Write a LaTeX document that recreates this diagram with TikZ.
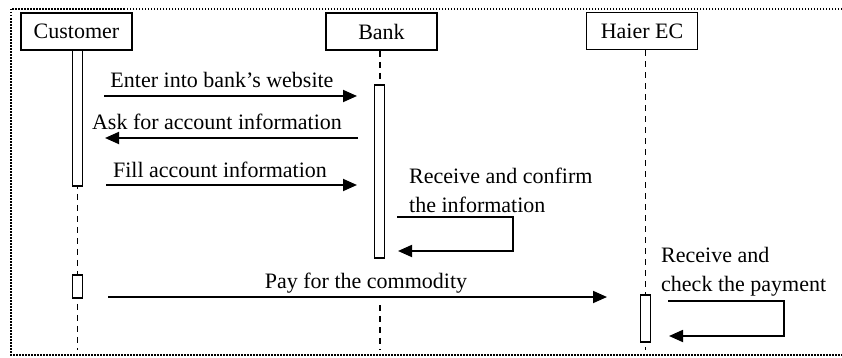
\documentclass[tikz,border=0pt]{standalone}
\usepackage{fontspec}
\setmainfont{Liberation Serif}
\usetikzlibrary{arrows.meta}

\begin{document}
\begin{tikzpicture}[x=1pt,y=-1pt,
  actor/.style={draw, line width=1.6pt, minimum width=111pt, minimum height=37pt, inner sep=0pt, font=\fontsize{22}{24}\selectfont},
  msg/.style={font=\fontsize{22}{29}\selectfont, inner sep=0pt},
  life/.style={line width=1.6pt, dash pattern=on 6pt off 5pt},
  actbar/.style={draw, fill=white, line width=1.5pt, minimum width=10pt, inner sep=0pt},
  call/.style={line width=1.8pt, -{Triangle[length=14pt,width=12pt]}}]
\useasboundingbox (0,0) rectangle (842,358);

\coordinate (cust-end) at (77.5,350);
\coordinate (bank-end) at (380,350);
\coordinate (bank-gap) at (380,305);
\coordinate (haier-end) at (645.5,350);
% message ends
\coordinate (M1a) at (104,96);
\coordinate (M1b) at (357,96);
\coordinate (M2a) at (358,138);
\coordinate (M2b) at (105,138);
\coordinate (M3a) at (106,185);
\coordinate (M3b) at (357,185);
\coordinate (M4a) at (108,297);
\coordinate (M4b) at (607,297);
\coordinate (L1a) at (397,217);
\coordinate (L1b) at (398,251);
\coordinate (L2a) at (668,301);
\coordinate (L2b) at (669,336);

 \draw[line width=1.5pt, dash pattern=on 1.5pt off 1.5pt] (845,9) -- (11,9) -- (11,355) -- (845,355);

 \node[actor] (cust) at (76.5,31.5) {Customer};
 \node[actor] (bank) at (381.5,31.5) {Bank};
 \node[actor] (haier) at (642,31) {Haier EC};

 \draw[life] (cust.south -| cust-end) -- (cust-end);
 \draw[life] (haier.south -| haier-end) -- (haier-end);
 \draw[life] (bank-gap) -- (bank-end);

 \node[actbar, minimum height=136pt] (custbar) at (77.5,118) {};
 \node[actbar, minimum height=23pt] (custpay) at (77.5,286.5) {};
 \node[actbar, minimum height=173pt] (bankbar) at (379.5,171.5) {};
 \node[actbar, minimum height=47pt] (haierbar) at (645.5,318.5) {};
 \draw[life] (bank.south -| bank-end) -- (bankbar.north -| bank-end);

 \draw[call] (M1a) -- (M1b);
 \draw[call] (M2a) -- (M2b);
 \draw[call] (M3a) -- (M3b);
 \draw[call] (M4a) -- (M4b);
 \draw[call] (L1a) -- ++(116,0) |- (L1b);
 \draw[call] (L2a) -- ++(116,0) |- (L2b);

 \node[msg, anchor=base] (t1) at (222,88) {Enter into bank’s website};
 \node[msg, anchor=base] (t2) at (217,130) {Ask for account information};
 \node[msg, anchor=base] (t3) at (220,177) {Fill account information};
 \node[msg, anchor=base] (t4) at (366,288) {Pay for the commodity};
 \node[msg, anchor=base west, align=left] (t5) at (409,212) {Receive and confirm\\the information};
 \node[msg, anchor=base west, align=left] (t6) at (661,291) {Receive and\\check the payment};

\end{tikzpicture}
\end{document}
